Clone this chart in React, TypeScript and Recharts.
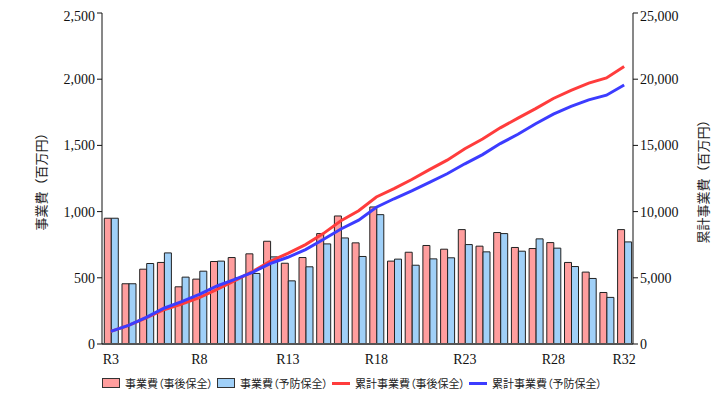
import React from 'react';
import { Bar, ComposedChart, Legend, Line, XAxis, YAxis } from 'recharts';

// 年度
const years = [
	'R3', 'R4', 'R5', 'R6', 'R7', 'R8', 'R9', 'R10', 'R11', 'R12',
	'R13', 'R14', 'R15', 'R16', 'R17', 'R18', 'R19', 'R20', 'R21', 'R22',
	'R23', 'R24', 'R25', 'R26', 'R27', 'R28', 'R29', 'R30', 'R31', 'R32',
];

// 事業費（事後保全）
const jigoCost = [
	950, 455, 565, 616, 432, 490, 623, 653, 681, 776,
	610, 653, 834, 967, 764, 1035, 626, 693, 744, 716,
	864, 739, 842, 729, 721, 766, 616, 543, 389, 864,
];

// 事業費（予防保全）
const yoboCost = [
	950, 455, 608, 688, 505, 550, 626, 500, 533, 658,
	477, 583, 756, 801, 661, 977, 641, 595, 643, 651,
	751, 696, 834, 701, 794, 724, 585, 495, 352, 771,
];

// 累計事業費（事後保全）
const jigoTotal = [
	950, 1405, 1970, 2586, 3018, 3508, 4131, 4784, 5465, 6241,
	6851, 7504, 8338, 9305, 10069, 11104, 11730, 12423, 13167, 13883,
	14747, 15486, 16328, 17057, 17778, 18544, 19160, 19703, 20092, 20956,
];

// 累計事業費（予防保全）
const yoboTotal = [
	950, 1405, 2013, 2701, 3206, 3756, 4382, 4882, 5415, 6073,
	6550, 7133, 7889, 8690, 9351, 10328, 10969, 11564, 12207, 12858,
	13609, 14305, 15139, 15840, 16634, 17358, 17943, 18438, 18790, 19561,
];

const xTickLabels = ['R3', 'R8', 'R13', 'R18', 'R23', 'R28', 'R32'];
const leftTicks = [0, 500, 1000, 1500, 2000, 2500];
const rightTicks = [0, 5000, 10000, 15000, 20000, 25000];

const data = years.map((name, i) => ({
	name,
	jigo: jigoCost[i],
	yobo: yoboCost[i],
	jigoSum: jigoTotal[i],
	yoboSum: yoboTotal[i],
}));

const serif = '"Liberation Serif", "Times New Roman", serif';
const jp = '"Noto Sans CJK JP", "Noto Sans", sans-serif';
const fmt = (v: number) => v.toLocaleString('en-US');

const legendItems = [
	{ label: '事業費（事後保全）', type: 'rect', color: '#ff9e9e' },
	{ label: '事業費（予防保全）', type: 'rect', color: '#a0d0f8' },
	{ label: '累計事業費（事後保全）', type: 'line', color: '#ff3c3c' },
	{ label: '累計事業費（予防保全）', type: 'line', color: '#3c3cff' },
];

// 凡例（下寄せ）
const LegendBox = () => (
	<div style={{ height: 26, display: 'flex', alignItems: 'flex-end', paddingLeft: 74, fontFamily: jp, fontSize: 11, lineHeight: '14px', color: '#222', fontFeatureSettings: '"palt"' }}>
		{legendItems.map((it) => (
			<div key={it.label} style={{ display: 'flex', alignItems: 'center', marginRight: 4 }}>
				{it.type === 'rect' ? (
					<span style={{ display: 'inline-block', width: 16, height: 8, background: it.color, border: '1px solid #333', marginRight: 5 }} />
				) : (
					<span style={{ display: 'inline-block', width: 18, height: 3, background: it.color, marginRight: 5 }} />
				)}
				<span style={{ whiteSpace: 'nowrap' }}>{it.label}</span>
			</div>
		))}
	</div>
);

const XTick = (props: any) => {
	const { x, y, payload } = props;
	if (!xTickLabels.includes(payload.value)) return <g />;
	return (
		<text x={x} y={y + 12} textAnchor='middle' fontFamily={serif} fontSize={14} fill='#111'>
			{payload.value}
		</text>
	);
};

export default function App() {
	return (
		<div style={{ position: 'relative', width: 711, height: 390 }}>
			<div style={{ position: 'absolute', left: -2, top: -8, width: 2, height: 398, background: '#3a8ee6' }} />
			<ComposedChart
				width={711}
				height={390}
				data={data}
				margin={{ top: 5, right: 10, bottom: 8, left: 20 }}
				barCategoryGap='13%'
				barGap={0}
			>
				<XAxis
					dataKey='name'
					interval={0}
					tickLine={false}
					tick={<XTick />}
					height={20}
					axisLine={{ stroke: '#555', strokeWidth: 2 }}
				/>
				<YAxis
					yAxisId='left'
					domain={[0, 2500]}
					ticks={leftTicks}
					tickFormatter={fmt}
					width={74}
					tickSize={5}
					axisLine={{ stroke: '#111' }}
					tickLine={{ stroke: '#111' }}
					tick={{ fontFamily: serif, fontSize: 14, fill: '#111' }}
					label={{ value: '事業費（百万円）', angle: -90, position: 'insideLeft', offset: 13, style: { textAnchor: 'middle', fontFamily: jp, fontSize: 13, fill: '#222' } }}
				/>
				<YAxis
					yAxisId='right'
					orientation='right'
					domain={[0, 25000]}
					ticks={rightTicks}
					tickFormatter={fmt}
					width={76}
					tickSize={5}
					axisLine={{ stroke: '#111' }}
					tickLine={{ stroke: '#111' }}
					tick={{ fontFamily: serif, fontSize: 14, fill: '#111' }}
					label={{ value: '累計事業費（百万円）', angle: -90, position: 'insideRight', offset: 6, style: { textAnchor: 'middle', fontFamily: jp, fontSize: 13, fill: '#222' } }}
				/>
				<Legend verticalAlign='bottom' height={26} content={<LegendBox />} />
				<Bar yAxisId='left' dataKey='jigo' fill='#ff9e9e' stroke='#222' strokeWidth={1} isAnimationActive={false} />
				<Bar yAxisId='left' dataKey='yobo' fill='#a0d0f8' stroke='#222' strokeWidth={1} isAnimationActive={false} />
				<Line yAxisId='right' dataKey='jigoSum' stroke='#ff3c3c' strokeWidth={3} dot={false} isAnimationActive={false} />
				<Line yAxisId='right' dataKey='yoboSum' stroke='#3c3cff' strokeWidth={3} dot={false} isAnimationActive={false} />
			</ComposedChart>
		</div>
	);
}
